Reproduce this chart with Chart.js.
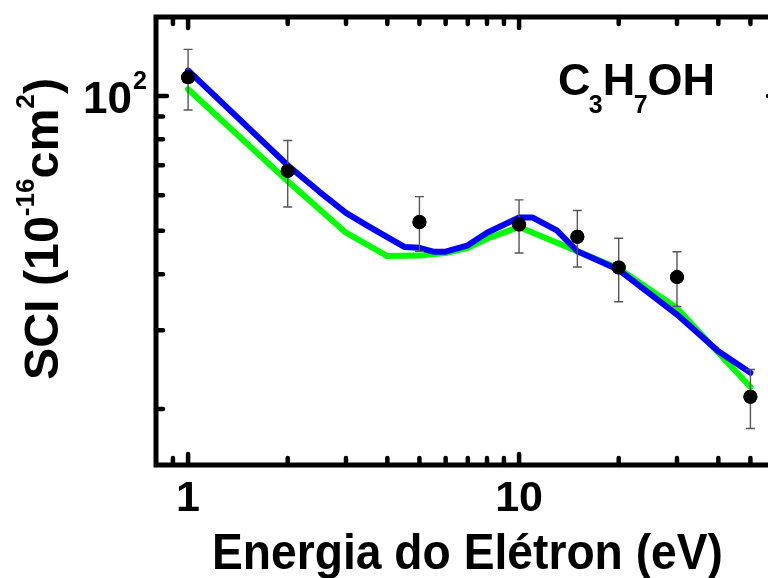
<!DOCTYPE html>
<html><head><meta charset="utf-8">
<script src="https://cdn.jsdelivr.net/npm/chart.js@4/dist/chart.umd.min.js"></script>
<style>
html,body{margin:0;padding:0;overflow:hidden;background:#fff;width:768px;height:578px}
#wrap{position:absolute;left:0;top:0;width:800px;height:578px}
</style>
</head><body><div id="wrap"><canvas id="c" width="800" height="578"></canvas></div>
<script>
// ---- data ----
const expEnergy = [1, 2, 5, 10, 15, 20, 30, 50];
const expSCI    = [110, 68, 52.3, 51.6, 48.5, 41.4, 39.4, 21.3];
const expErr    = [17, 11.5, 7.3, 7, 7, 6.7, 5.5, 3.2];

const blueEnergy = [1, 2, 2.5, 3, 3.5, 4.5, 5, 5.5, 6, 7, 8, 10, 11, 13, 15, 20, 30, 40, 50];
const blueSCI    = [114, 70, 61, 54.8, 51.2, 46, 45.8, 44.9, 44.9, 46.4, 49.5, 53.5, 53.5, 50.1, 45, 40.9, 32.5, 26.9, 24.1];

const greenEnergy = [1, 2, 3, 4, 5, 6, 7, 8, 10, 15, 20, 30, 40, 50];
const greenSCI    = [103.5, 64.5, 49.5, 43.9, 44, 44.6, 45.8, 48, 51, 45, 41.2, 33.6, 26.7, 22.4];

const xMajorTicks = [1, 10];
const xMinorTicks = [0.9, 2, 3, 4, 5, 6, 7, 8, 9, 20, 30, 40, 50];
const xTickLabels = ['1', '10'];
const yMajorTicks = [100];
const yMinorTicks = [20, 30, 40, 50, 60, 70, 80, 90];
const yTickBase = ['10'];
const yTickExp  = ['2'];

const xTitle = 'Energia do Elétron (eV)';
const yTitleParts = [['SCI (10', false], ['-16', true], ['cm', false], ['2', true], [')', false]];
const moleculeParts = [['C', false], ['3', true], ['H', false], ['7', true], ['OH', false]];

const FONT = '"Liberation Sans", Arial, Helvetica, sans-serif';

function pts(xs, ys) { return xs.map((x, i) => ({ x: x, y: ys[i] })); }

const decorPlugin = {
  id: 'decor',
  afterDatasetsDraw(chart) {
    const ctx = chart.ctx, xs = chart.scales.x, ys = chart.scales.y;
    ctx.save();
    ctx.strokeStyle = '#555';
    ctx.lineWidth = 1.4;
    expEnergy.forEach((e, i) => {
      const px = xs.getPixelForValue(e);
      const pTop = ys.getPixelForValue(expSCI[i] + expErr[i]);
      const pBot = ys.getPixelForValue(expSCI[i] - expErr[i]);
      ctx.beginPath();
      ctx.moveTo(px, pTop); ctx.lineTo(px, pBot);
      ctx.moveTo(px - 4.5, pTop); ctx.lineTo(px + 4.5, pTop);
      ctx.moveTo(px - 4.5, pBot); ctx.lineTo(px + 4.5, pBot);
      ctx.stroke();
    });
    ctx.restore();
    const meta = chart.getDatasetMeta(0);
    ctx.save();
    ctx.fillStyle = '#000';
    meta.data.forEach(p => { ctx.beginPath(); ctx.arc(p.x, p.y, 7, 0, Math.PI * 2); ctx.fill(); });
    ctx.restore();
  },
  afterDraw(chart) {
    const ctx = chart.ctx, a = chart.chartArea, xs = chart.scales.x, ys = chart.scales.y;
    ctx.save();
    ctx.strokeStyle = '#000';
    ctx.lineWidth = 5;
    ctx.lineJoin = 'miter';
    ctx.strokeRect(a.left, a.top, a.right - a.left, a.bottom - a.top);
    ctx.lineCap = 'round';
    ctx.lineWidth = 4.5;
    const xt = xMajorTicks.map(v => [v, 11]).concat(xMinorTicks.map(v => [v, 7]));
    xt.forEach(([v, len]) => {
      const px = xs.getPixelForValue(v);
      ctx.beginPath();
      ctx.moveTo(px, a.bottom); ctx.lineTo(px, a.bottom - len);
      ctx.moveTo(px, a.top); ctx.lineTo(px, a.top + len);
      ctx.stroke();
    });
    const yt = yMajorTicks.map(v => [v, 11]).concat(yMinorTicks.map(v => [v, 7]));
    yt.forEach(([v, len]) => {
      const py = ys.getPixelForValue(v);
      ctx.beginPath();
      ctx.moveTo(a.left, py); ctx.lineTo(a.left + len, py);
      ctx.moveTo(a.right, py); ctx.lineTo(a.right - len, py);
      ctx.stroke();
    });
    ctx.fillStyle = '#000';
    ctx.textBaseline = 'alphabetic';
    yMajorTicks.forEach((v, i) => {
      const py = ys.getPixelForValue(v);
      ctx.font = 'bold 44px ' + FONT;
      ctx.textAlign = 'right';
      ctx.fillText(yTickBase[i], 132, py + 17);
      ctx.font = 'bold 25px ' + FONT;
      ctx.textAlign = 'left';
      ctx.fillText(yTickExp[i], 133, py - 7);
    });
    ctx.font = 'bold 50px ' + FONT;
    ctx.textAlign = 'left';
    const wX = ctx.measureText(xTitle).width;
    const sX = 511 / wX;
    ctx.save();
    ctx.translate(212, 569);
    ctx.scale(sX, 1);
    ctx.fillText(xTitle, 0, 0);
    ctx.restore();
    const big = 'bold 48px ' + FONT, small = 'bold 26px ' + FONT;
    let total = 0;
    yTitleParts.forEach(([t, sup]) => { ctx.font = sup ? small : big; total += ctx.measureText(t).width; });
    const sY = 302 / total;
    ctx.save();
    ctx.translate(58, 380);
    ctx.rotate(-Math.PI / 2);
    ctx.scale(sY, 1);
    let cx = 0;
    yTitleParts.forEach(([t, sup]) => {
      ctx.font = sup ? small : big;
      ctx.fillText(t, cx, sup ? -24 : 0);
      cx += ctx.measureText(t).width;
    });
    ctx.restore();
    let mx = 558;
    moleculeParts.forEach(([t, sub]) => {
      ctx.font = sub ? 'bold 25px ' + FONT : 'bold 45px ' + FONT;
      const w = ctx.measureText(t).width;
      ctx.fillText(t, mx, sub ? 113 : 95);
      mx += w * (sub ? 1.0 : 0.95);
    });
    ctx.restore();
  }
};

new Chart(document.getElementById('c'), {
  type: 'scatter',
  data: {
    datasets: [
      { label: 'exp', data: pts(expEnergy, expSCI), showLine: false, pointRadius: 7,
        pointBackgroundColor: '#000', pointBorderWidth: 0, order: 0 },
      { label: 'blue', data: pts(blueEnergy, blueSCI), showLine: true, pointRadius: 0,
        borderColor: '#0000ff', borderWidth: 6, tension: 0, borderJoinStyle: 'round', borderCapStyle: 'round', order: 1 },
      { label: 'green', data: pts(greenEnergy, greenSCI), showLine: true, pointRadius: 0,
        borderColor: '#00ff00', borderWidth: 6, tension: 0, borderJoinStyle: 'round', borderCapStyle: 'round', order: 2 }
    ]
  },
  options: {
    responsive: false,
    animation: false,
    events: [],
    layout: { padding: { top: 17, right: 21, left: 0, bottom: 0 } },
    plugins: { legend: { display: false }, tooltip: { enabled: false } },
    scales: {
      x: {
        type: 'logarithmic', min: 0.8, max: 61,
        grid: { display: false, drawTicks: false },
        border: { display: false },
        afterBuildTicks(scale) {
          scale.ticks = xMajorTicks.concat(xMinorTicks).map(v => ({ value: v, major: xMajorTicks.includes(v) }));
        },
        afterFit(scale) { scale.height = 113; },
        ticks: {
          autoSkip: false, maxRotation: 0, minRotation: 0, padding: 8, color: '#000',
          font: { family: FONT, size: 43, weight: 'bold' },
          callback(value) { const i = xMajorTicks.indexOf(value); return i >= 0 ? xTickLabels[i] : ''; }
        }
      },
      y: {
        type: 'logarithmic', min: 15, max: 150,
        grid: { display: false, drawTicks: false },
        border: { display: false },
        afterBuildTicks(scale) {
          scale.ticks = yMinorTicks.concat(yMajorTicks).map(v => ({ value: v, major: yMajorTicks.includes(v) }));
        },
        afterFit(scale) { scale.width = 156; },
        ticks: { display: false }
      }
    }
  },
  plugins: [decorPlugin]
});
</script>
</body></html>
